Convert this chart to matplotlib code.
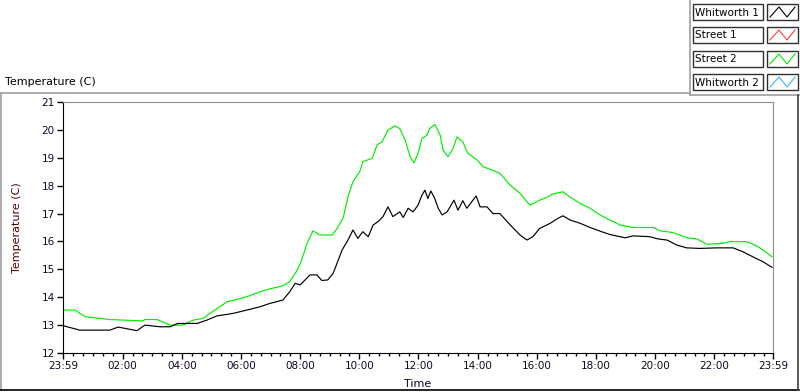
import matplotlib
matplotlib.use("Agg")
import matplotlib.pyplot as plt
from matplotlib.lines import Line2D
from matplotlib.patches import Rectangle

# minutes after 23:59 (previous day)
street2_min = [0, 24, 45, 95, 162, 166, 191, 217, 243, 264, 284, 298, 333, 353, 373,
               400, 420, 446, 460, 475, 481, 487, 495, 507, 521, 546, 556, 568, 578,
               588, 602, 608, 627, 637, 647, 659, 673, 683, 694, 704, 712, 720, 728,
               738, 744, 754, 765, 771, 781, 791, 799, 811, 821, 840, 852, 870, 886,
               907, 927, 947, 967, 984, 992, 1014, 1028, 1049, 1069, 1089, 1109, 1130,
               1156, 1197, 1211, 1237, 1265, 1286, 1306, 1338, 1353, 1387, 1407, 1420, 1438]
street2_temp = [13.54, 13.54, 13.3, 13.2, 13.15, 13.2, 13.2, 13.0, 13.0, 13.18, 13.24,
                13.42, 13.84, 13.92, 14.02, 14.2, 14.3, 14.41, 14.56, 14.97, 15.2, 15.5,
                15.93, 16.38, 16.23, 16.23, 16.47, 16.83, 17.6, 18.14, 18.5, 18.86, 18.98,
                19.46, 19.57, 19.99, 20.14, 20.05, 19.63, 19.04, 18.82, 19.16, 19.69,
                19.81, 20.05, 20.2, 19.81, 19.27, 19.04, 19.33, 19.75, 19.57, 19.16,
                18.92, 18.68, 18.56, 18.44, 18.02, 17.72, 17.3, 17.48, 17.6, 17.7, 17.78,
                17.6, 17.36, 17.19, 16.95, 16.77, 16.59, 16.5, 16.5, 16.38, 16.32, 16.13,
                16.09, 15.9, 15.93, 16.0, 15.99, 15.84, 15.69, 15.45]

whitworth1_min = [0, 34, 95, 112, 150, 166, 197, 217, 233, 272, 292, 312, 345, 373, 400,
                  420, 446, 460, 471, 481, 501, 515, 525, 537, 548, 566, 578, 588, 598,
                  608, 619, 629, 639, 649, 659, 669, 683, 690, 700, 710, 720, 728, 734,
                  740, 746, 754, 761, 769, 779, 793, 801, 811, 819, 838, 846, 860, 872,
                  886, 907, 927, 941, 953, 967, 988, 1004, 1014, 1028, 1049, 1069, 1089,
                  1109, 1140, 1156, 1190, 1207, 1225, 1245, 1265, 1292, 1326, 1359, 1379,
                  1399, 1420, 1438]
whitworth1_temp = [12.98, 12.82, 12.82, 12.93, 12.8, 13.0, 12.94, 12.94, 13.06, 13.06,
                   13.18, 13.33, 13.42, 13.54, 13.66, 13.78, 13.9, 14.2, 14.5, 14.44,
                   14.8, 14.8, 14.6, 14.62, 14.86, 15.69, 16.05, 16.41, 16.11, 16.35,
                   16.17, 16.59, 16.71, 16.89, 17.24, 16.89, 17.06, 16.86, 17.19, 17.06,
                   17.3, 17.66, 17.84, 17.54, 17.81, 17.54, 17.19, 16.95, 17.06, 17.48,
                   17.12, 17.46, 17.19, 17.63, 17.24, 17.24, 17.0, 17.0, 16.59, 16.23,
                   16.05, 16.17, 16.47, 16.65, 16.83, 16.92, 16.77, 16.65, 16.5, 16.37,
                   16.25, 16.13, 16.2, 16.17, 16.09, 16.05, 15.87, 15.77, 15.75, 15.77,
                   15.77, 15.63, 15.45, 15.27, 15.07]

legend_names = ["Whitworth 1", "Street 1", "Street 2", "Whitworth 2"]
legend_colors = ["#000000", "#ff3c3c", "#00e600", "#3cb4ff"]

major_ticks = [0, 121, 241, 361, 481, 601, 721, 841, 961, 1081, 1201, 1321, 1440]
major_labels = ["23:59", "02:00", "04:00", "06:00", "08:00", "10:00", "12:00",
                "14:00", "16:00", "18:00", "20:00", "22:00", "23:59"]
y_ticks = list(range(12, 22))

W, H = 800, 392
fig = plt.figure(figsize=(W / 100, H / 100), dpi=100)
fig.patch.set_facecolor("white")


def fx(x):
    return x / W


def fy(y):
    return 1 - y / H


ax = fig.add_axes([fx(63), fy(353), 710 / W, 251 / H])
ax.plot(street2_min, street2_temp, color="#00ee00", lw=0.85)
ax.plot(whitworth1_min, whitworth1_temp, color="black", lw=0.85)
ax.set_xlim(0, 1440)
ax.set_ylim(12, 21)

tick_col = "#0a0a28"
ax.set_xticks(major_ticks)
ax.set_xticklabels(major_labels)
minor = [1 + 20 * k for k in range(1, 72) if (1 + 20 * k) not in major_ticks]
ax.set_xticks(minor, minor=True)
ax.set_yticks(y_ticks)
ax.tick_params(axis="both", which="major", direction="out", length=4, width=1,
               labelsize=7.5, colors="black", labelcolor=tick_col, pad=2)
ax.tick_params(axis="x", which="minor", direction="out", length=2.5, width=1)

for side in ["left", "bottom"]:
    ax.spines[side].set_color("black")
for side in ["top", "right"]:
    ax.spines[side].set_color("#909090")

ax.set_xlabel("Time", fontsize=8, color=tick_col, va="center")
ax.xaxis.set_label_coords(0.5, -0.125)
ax.set_ylabel("Temperature (C)", fontsize=8, color="#5a0000")
ax.yaxis.set_label_coords(-0.058, 0.5)

fig.text(fx(5), fy(82), "Temperature (C)", fontsize=8, va="center", ha="left",
         color="black")

# panel frame
frame = [((1, 1), (93, 390)), ((1, 690), (93, 93)), ((690, 690), (0, 95)),
         ((690, 800), (95, 95))]
for xs, ys in frame:
    fig.add_artist(Line2D([fx(v) for v in xs], [fy(v) for v in ys],
                          color="#a0a0a0", lw=1.2))
fig.add_artist(Line2D([fx(0), fx(799)], [fy(390), fy(390)], color="black", lw=1.2))
fig.add_artist(Line2D([fx(798), fx(798)], [fy(95), fy(390)], color="#404040", lw=1.2))

# legend
tops = [4, 27, 51, 74]
for top, name, col in zip(tops, legend_names, legend_colors):
    fig.add_artist(Rectangle((fx(693), fy(top + 16)), 70 / W, 16 / H,
                             transform=fig.transFigure, fill=False,
                             edgecolor="#303030", lw=1))
    fig.text(fx(695), fy(top + 8.5), name, fontsize=7.5, va="center", ha="left",
             color="black")
    fig.add_artist(Rectangle((fx(767), fy(top + 16)), 31 / W, 16 / H,
                             transform=fig.transFigure, fill=False,
                             edgecolor="#303030", lw=1))
    zx = [770, 779, 787, 795]
    zy = [top + 13, top + 3, top + 13, top + 3]
    fig.add_artist(Line2D([fx(v) for v in zx], [fy(v) for v in zy], color=col, lw=0.8))

fig.savefig("out.png", dpi=100, facecolor="white")
